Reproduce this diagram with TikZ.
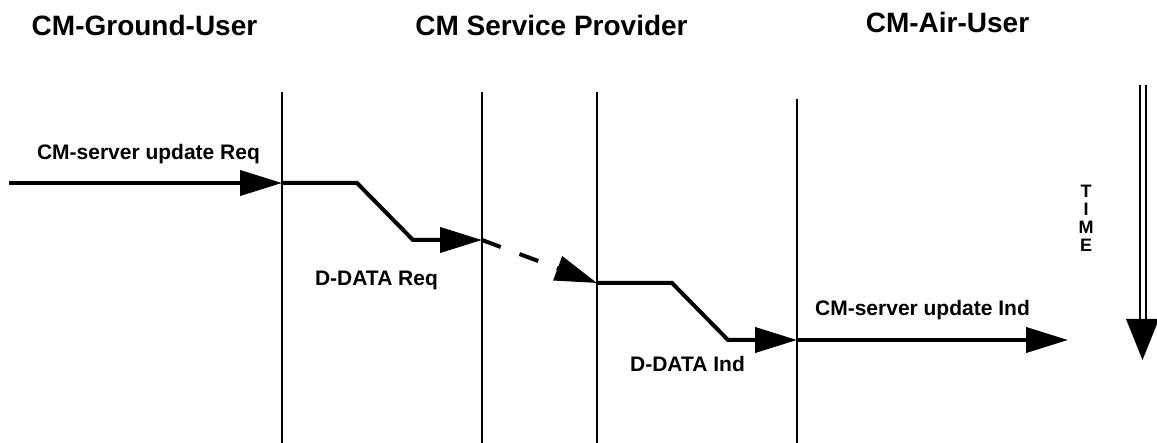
\documentclass[tikz,border=0pt]{standalone}
\usepackage{fontspec}
\setmainfont{Liberation Sans}
\usetikzlibrary{arrows.meta}
\tikzset{
  lifeline/.style={line width=1.6pt},
  msg/.style={line width=4pt, -{Triangle[length=42pt,width=25pt]}},
  msgdash/.style={msg, dash pattern=on 20pt off 20pt},
  title/.style={font=\fontsize{28}{30}\selectfont\bfseries, anchor=base, inner sep=0pt},
  lbl/.style={font=\fontsize{21}{23}\selectfont\bfseries, anchor=base, inner sep=0pt},
}
\begin{document}
\begin{tikzpicture}[x=1pt,y=-1pt]
\useasboundingbox (0,0) rectangle (1157,443);

% column titles
\node[title] (tground) at (144.5,36) {CM-Ground-User};
\node[title] (tprov)   at (551.5,36) {CM Service Provider};
\node[title] (tair)    at (947.5,33) {CM-Air-User};

% lifelines
\coordinate (a1) at (282,92);  \coordinate (b1) at (282,443);
\coordinate (a2) at (482,92);  \coordinate (b2) at (482,443);
\coordinate (a3) at (597,92);  \coordinate (b3) at (597,443);
\coordinate (a4) at (797,99);  \coordinate (b4) at (797,443);
\foreach \i in {1,...,4} \draw[lifeline] (a\i) -- (b\i);

% message points
\coordinate (s0) at (9,183);
\coordinate (p1) at (282,183);
\coordinate (k1) at (357,183);
\coordinate (k2) at (413,240);
\coordinate (p2) at (482,240);
\coordinate (p3) at (597,283);
\coordinate (k3) at (672,283);
\coordinate (k4) at (728,340);
\coordinate (p4) at (797,340);
\coordinate (p5) at (1068,340);

% messages
\draw[msg] (s0) -- (p1);
\draw[msg] (p1) -- (k1) -- (k2) -- (p2);
\draw[msgdash] (p2) -- (p3);
\draw[msg] (p3) -- (k3) -- (k4) -- (p4);
\draw[msg] (p4) -- (p5);

% message labels
\node[lbl] (lreq)  at (148.5,160) {CM-server update Req};
\node[lbl] (ldreq) at (376.5,286) {D-DATA Req};
\node[lbl] (ldind) at (687.5,372) {D-DATA Ind};
\node[lbl] (lind)  at (922.5,316) {CM-server update Ind};

% time axis
\node[font=\fontsize{18}{18}\selectfont\bfseries, align=center, inner sep=0pt] (time) at (1086,218) {T\\I\\M\\E};
\coordinate (t0) at (1142.5,85);
\coordinate (t1) at (1142.5,322);
\coordinate (tip) at (1142.5,360);
\draw[line width=2pt] ([xshift=-3pt]t0) -- ([xshift=-3pt]t1);
\draw[line width=2pt] ([xshift=3pt]t0) -- ([xshift=3pt]t1);
\fill ([xshift=-16.5pt]t1 |- 0,319) -- ([xshift=16.5pt]t1 |- 0,319) -- (tip) -- cycle;
\end{tikzpicture}
\end{document}
